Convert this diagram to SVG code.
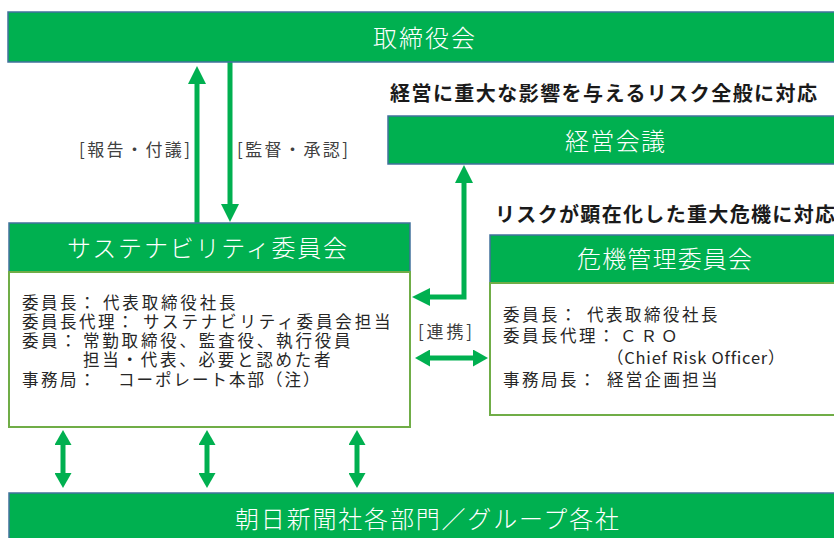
<svg xmlns="http://www.w3.org/2000/svg" width="834" height="538" viewBox="0 0 834 538">
<style>
text{font-family:"Noto Sans CJK JP","Noto Sans",sans-serif;dominant-baseline:central}
.hdr{fill:#00B050;stroke:#41719C;stroke-width:1.5}
.body{fill:#ffffff;stroke:#70AD47;stroke-width:2}
.ht{fill:#ffffff;font-size:24px;font-weight:300}
.bt{fill:#262626;font-size:16.5px;letter-spacing:2.5px}
.lbl{fill:#404040;font-size:17px}
.note{fill:#1a1a1a;font-size:20px;font-weight:bold}
.con{fill:none;stroke:#00B050;stroke-width:5}
</style>
<defs>
<marker id="arrL" viewBox="0 0 18 18" refX="1" refY="9" markerWidth="18" markerHeight="18" markerUnits="userSpaceOnUse" orient="auto-start-reverse">
<path d="M0,0 L18,9 L0,18 z" fill="#00B050"/>
</marker>
<marker id="arrS" viewBox="0 0 15 17" refX="1" refY="8.5" markerWidth="15" markerHeight="17" markerUnits="userSpaceOnUse" orient="auto-start-reverse">
<path d="M0,0 L15,8.5 L0,17 z" fill="#00B050"/>
</marker>
</defs>

<g id="connectors">
<line class="con" x1="197" y1="223" x2="197" y2="83" marker-end="url(#arrL)"/>
<line class="con" x1="230" y1="62" x2="230" y2="205" marker-end="url(#arrL)"/>
<path class="con" d="M429,297 L464,297 L464,182" marker-start="url(#arrL)" marker-end="url(#arrL)"/>
<line class="con" x1="429" y1="358" x2="474" y2="358" marker-start="url(#arrS)" marker-end="url(#arrS)"/>
<line class="con" x1="63" y1="444" x2="63" y2="474" marker-start="url(#arrS)" marker-end="url(#arrS)"/>
<line class="con" x1="207" y1="444" x2="207" y2="474" marker-start="url(#arrS)" marker-end="url(#arrS)"/>
<line class="con" x1="357" y1="444" x2="357" y2="474" marker-start="url(#arrS)" marker-end="url(#arrS)"/>
<text class="lbl" x="79" y="148" textLength="111">[報告・付議]</text>
<text class="lbl" x="237" y="148" textLength="111">[監督・承認]</text>
<text class="lbl" x="418" y="330" textLength="54">[連携]</text>
</g>

<g id="board">
<rect class="hdr" x="8" y="12" width="850" height="50"/>
<text class="ht" x="373" y="36" textLength="102">取締役会</text>
</g>

<g id="mgmt-note">
<text class="note" x="390" y="92" textLength="427">経営に重大な影響を与えるリスク全般に対応</text>
</g>

<g id="management-meeting">
<rect class="hdr" x="388" y="116" width="470" height="48"/>
<text class="ht" x="565" y="139" textLength="100">経営会議</text>
</g>

<g id="crisis-note">
<text class="note" x="495" y="213" textLength="340">リスクが顕在化した重大危機に対応</text>
</g>

<g id="sustainability">
<rect class="hdr" x="9" y="223" width="401" height="49"/>
<text class="ht" x="67" y="246" textLength="280">サステナビリティ委員会</text>
<rect class="body" x="9" y="272" width="401" height="155"/>
<text class="bt" x="22" y="302">委員長：</text>
<text class="bt" x="103" y="302" textLength="135">代表取締役社長</text>
<text class="bt" x="22" y="321">委員長代理：</text>
<text class="bt" x="143" y="321" textLength="250">サステナビリティ委員会担当</text>
<text class="bt" x="22" y="340">委員：</text>
<text class="bt" x="83" y="340" textLength="270">常勤取締役、監査役、執行役員</text>
<text class="bt" x="83" y="359" textLength="250">担当・代表、必要と認めた者</text>
<text class="bt" x="22" y="379">事務局：</text>
<text class="bt" x="118" y="379" textLength="204">コーポレート本部（注）</text>
</g>

<g id="crisis">
<rect class="hdr" x="490" y="235" width="360" height="48"/>
<text class="ht" x="577" y="257" textLength="175">危機管理委員会</text>
<rect class="body" x="490" y="283" width="360" height="132"/>
<text class="bt" x="503" y="314">委員長：</text>
<text class="bt" x="587" y="314" textLength="133">代表取締役社長</text>
<text class="bt" x="503" y="335">委員長代理：</text>
<text class="bt" x="620" y="335" textLength="60">ＣＲＯ</text>
<text class="bt" x="607" y="357" textLength="180">（Chief Risk Officer）</text>
<text class="bt" x="503" y="379">事務局長：</text>
<text class="bt" x="607" y="379" textLength="113">経営企画担当</text>
</g>

<g id="group-companies">
<rect class="hdr" x="9" y="493" width="850" height="60"/>
<text class="ht" x="235" y="517" textLength="384">朝日新聞社各部門／グループ各社</text>
</g>
</svg>
